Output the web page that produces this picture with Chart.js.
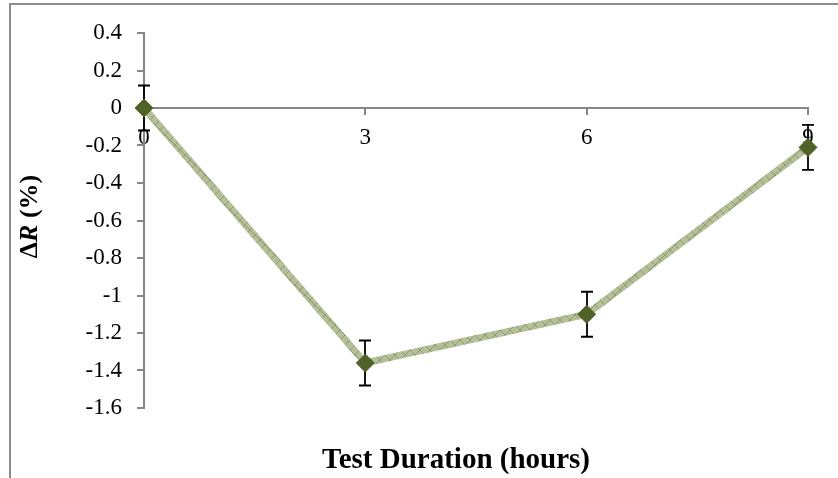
<!DOCTYPE html>
<html>
<head>
<meta charset="utf-8">
<style>
  html, body { margin:0; padding:0; background:#fff; }
  #wrap { width:838px; height:478px; position:relative; }
</style>
<script src="https://cdn.jsdelivr.net/npm/chart.js@4.4.1/dist/chart.umd.min.js"></script>
</head>
<body>
<div id="wrap"><canvas id="chart"></canvas></div>
<script>
/* DATA */
const hours = [0, 3, 6, 9];
const deltaR = [0, -1.36, -1.10, -0.21];
const errR = [0.12, 0.12, 0.12, 0.12];
const xTickValues = [0, 3, 6, 9];
const yTickValues = [0.4, 0.2, 0, -0.2, -0.4, -0.6, -0.8, -1, -1.2, -1.4, -1.6];
const xTitle = 'Test Duration (hours)';

const SERIF = "'Liberation Serif', 'Times New Roman', serif";
const AXIS = '#868686';

/* hatched fill for the line (excel style pattern) */
function hatch(){
  const p = document.createElement('canvas');
  p.width = p.height = 10;
  const g = p.getContext('2d');
  g.fillStyle = '#b5bf9a';
  g.fillRect(0,0,10,10);
  g.strokeStyle = '#8f9b70';
  g.lineWidth = 1;
  g.beginPath();
  g.moveTo(0,0); g.lineTo(10,10);
  g.moveTo(10,0); g.lineTo(0,10);
  g.stroke();
  return g.createPattern(p,'repeat');
}

/* outer frame */
const frame = {
  id:'frame',
  beforeDraw(chart){
    const ctx = chart.ctx;
    ctx.save();
    ctx.strokeStyle = '#8c8c8c';
    ctx.lineWidth = 2;
    ctx.strokeRect(10, 4, 1000, 1000);
    ctx.restore();
  }
};

/* error bars, drawn under the markers */
const errorBars = {
  id:'errorBars',
  beforeDatasetsDraw(chart){
    const {ctx, scales:{x, y}} = chart;
    ctx.save();
    ctx.strokeStyle = '#000';
    ctx.lineWidth = 1.8;
    hours.forEach((h,i)=>{
      const px = Math.round(x.getPixelForValue(h));
      const top = y.getPixelForValue(deltaR[i] + errR[i]);
      const bot = y.getPixelForValue(deltaR[i] - errR[i]);
      ctx.beginPath();
      ctx.moveTo(px, top); ctx.lineTo(px, bot);
      ctx.moveTo(px-6, top); ctx.lineTo(px+6, top);
      ctx.moveTo(px-6, bot); ctx.lineTo(px+6, bot);
      ctx.stroke();
    });
    ctx.restore();
  }
};

/* axis titles: y has an italic R, x sits low under the plot */
const axisTitles = {
  id:'axisTitles',
  afterDraw(chart){
    const ctx = chart.ctx;
    const a = chart.chartArea;
    const parts = [
      ['Δ', 'bold 26px ' + SERIF],
      ['R', 'italic bold 26px ' + SERIF],
      [' (%)', 'bold 26px ' + SERIF]
    ];
    ctx.save();
    ctx.fillStyle = '#000';
    ctx.textBaseline = 'middle';

    // x title
    ctx.font = 'bold 29px ' + SERIF;
    ctx.textAlign = 'center';
    ctx.fillText(xTitle, 456, 461);

    // y title
    ctx.textAlign = 'left';
    let total = 0;
    parts.forEach(p=>{ ctx.font = p[1]; total += ctx.measureText(p[0]).width; });
    ctx.translate(30, (a.top + a.bottom)/2 - 4);
    ctx.rotate(-Math.PI/2);
    let cx = -total/2;
    parts.forEach(p=>{
      ctx.font = p[1];
      ctx.fillText(p[0], cx, 0);
      cx += ctx.measureText(p[0]).width;
    });
    ctx.restore();
  }
};

new Chart(document.getElementById('chart'), {
  type:'line',
  data:{
    datasets:[{
      data: hours.map((h,i)=>({x:h, y:deltaR[i]})),
      borderColor: hatch(),
      borderWidth: 7,
      tension: 0,
      pointStyle: 'rectRot',
      pointRadius: 9,
      pointBackgroundColor: '#4f6228',
      pointBorderColor: '#4f6228',
      pointBorderWidth: 1,
      clip: false
    }]
  },
  options:{
    responsive:true,
    maintainAspectRatio:false,
    animation:false,
    layout:{ padding:{ left:0, right:30, top:33, bottom:70 } },
    plugins:{
      legend:{ display:false },
      tooltip:{ enabled:false },
      title:{ display:false }
    },
    scales:{
      x:{
        type:'linear',
        position:{ y:0 },
        min:0, max:9,
        z:1,
        afterBuildTicks: s => { s.ticks = xTickValues.map(v=>({value:v})); },
        afterFit: s => { s.height = 0; },
        grid:{ drawOnChartArea:false, drawTicks:true, tickLength:6, color:AXIS, lineWidth:2 },
        border:{ display:true, color:AXIS, width:2 },
        ticks:{ color:'#000', padding:10, maxRotation:0, font:{ family:SERIF, size:23 }, callback: v => String(v) }
      },
      y:{
        min:-1.6, max:0.4,
        afterBuildTicks: s => { s.ticks = yTickValues.map(v=>({value:v})); },
        afterFit: s => { s.width = 144; },
        grid:{ drawOnChartArea:false, drawTicks:true, tickLength:7, color:AXIS, lineWidth:2 },
        border:{ display:true, color:AXIS, width:2 },
        ticks:{ color:'#000', padding:15, font:{ family:SERIF, size:23 }, callback: v => String(v) }
      }
    }
  },
  plugins:[frame, errorBars, axisTitles]
});
</script>
</body>
</html>
